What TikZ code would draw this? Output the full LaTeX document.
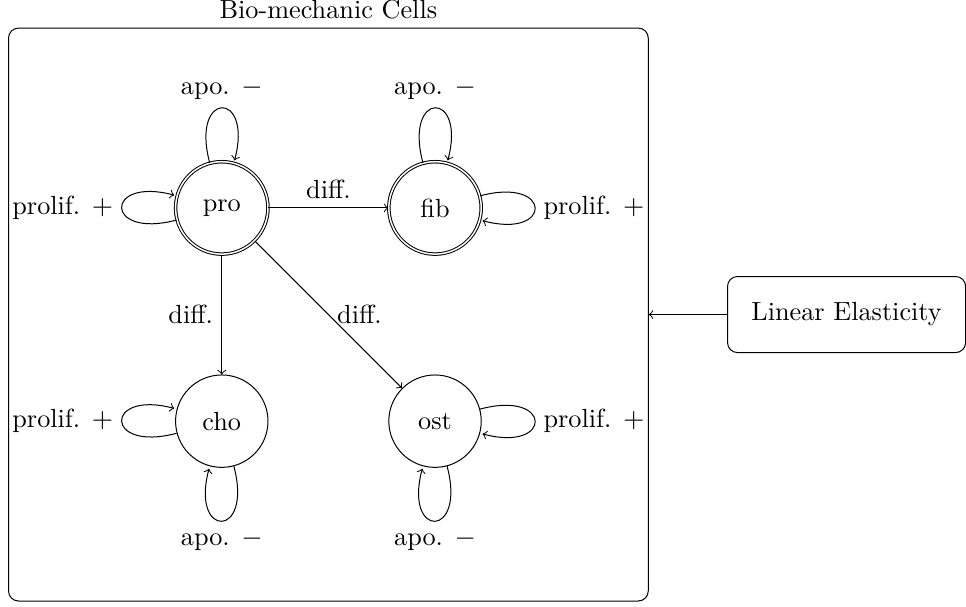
\documentclass[tikz,border=0pt]{standalone}
\begin{document}
\begin{tikzpicture}[every node/.append style={font=\fontsize{10.5}{12.6}\selectfont}]
		\tikzset{cell/.style = {shape=circle,draw,minimum size=1.3cm}}
		\tikzset{stem/.style = {cell,double}}
		\tikzset{cellbox/.style = {draw,rounded corners,minimum width=9cm,minimum height=8.06cm}}
		\tikzset{model/.style = {draw,rounded corners,minimum width=3.35cm,minimum height=1.07cm}}
		\useasboundingbox (-3.12,-5.61) rectangle (10.47,2.925);
		\node[stem] (pro) at  (0,0) {pro};
		\node[stem] (fib) at  (3,0) {fib};
		\node[cell] (cho) at  (0,-3) {cho};
		\node[cell] (ost) at  (3,-3) {ost};
		\node[cellbox,label=above:Bio-mechanic Cells] (cells) at (1.5,-1.5) {};
		\node[model] (elastic) at (8.79,-1.5) {Linear Elasticity};
		\path[->,draw, loop above] (pro) edge node[above] {apo. $-$} (pro);
		\path[->,draw, loop left] (pro) edge node[left] {prolif. $+$} (pro);
		\path[->,draw] (pro) edge node[above] {diff.} (fib);
		\path[->,draw] (pro) edge node[left] {diff.} (cho);
		\path[->,draw] (pro) edge node[right] {diff.} (ost);
		\path[->,draw, loop above] (fib) edge node[above] {apo. $-$} (fib);
		\path[->,draw, loop right] (fib) edge node[right] {prolif. $+$} (fib);
		\path[->,draw, loop left] (cho) edge node[left] {prolif. $+$} (cho);
		\path[->,draw, loop below] (cho) edge node[below] {apo. $-$} (cho);
		\path[->,draw, loop right] (ost) edge node[right] {prolif. $+$} (ost);
		\path[->,draw, loop below] (ost) edge node[below] {apo. $-$} (ost);
		\path[->,draw] (elastic) edge (cells);
	\end{tikzpicture}
\end{document}
